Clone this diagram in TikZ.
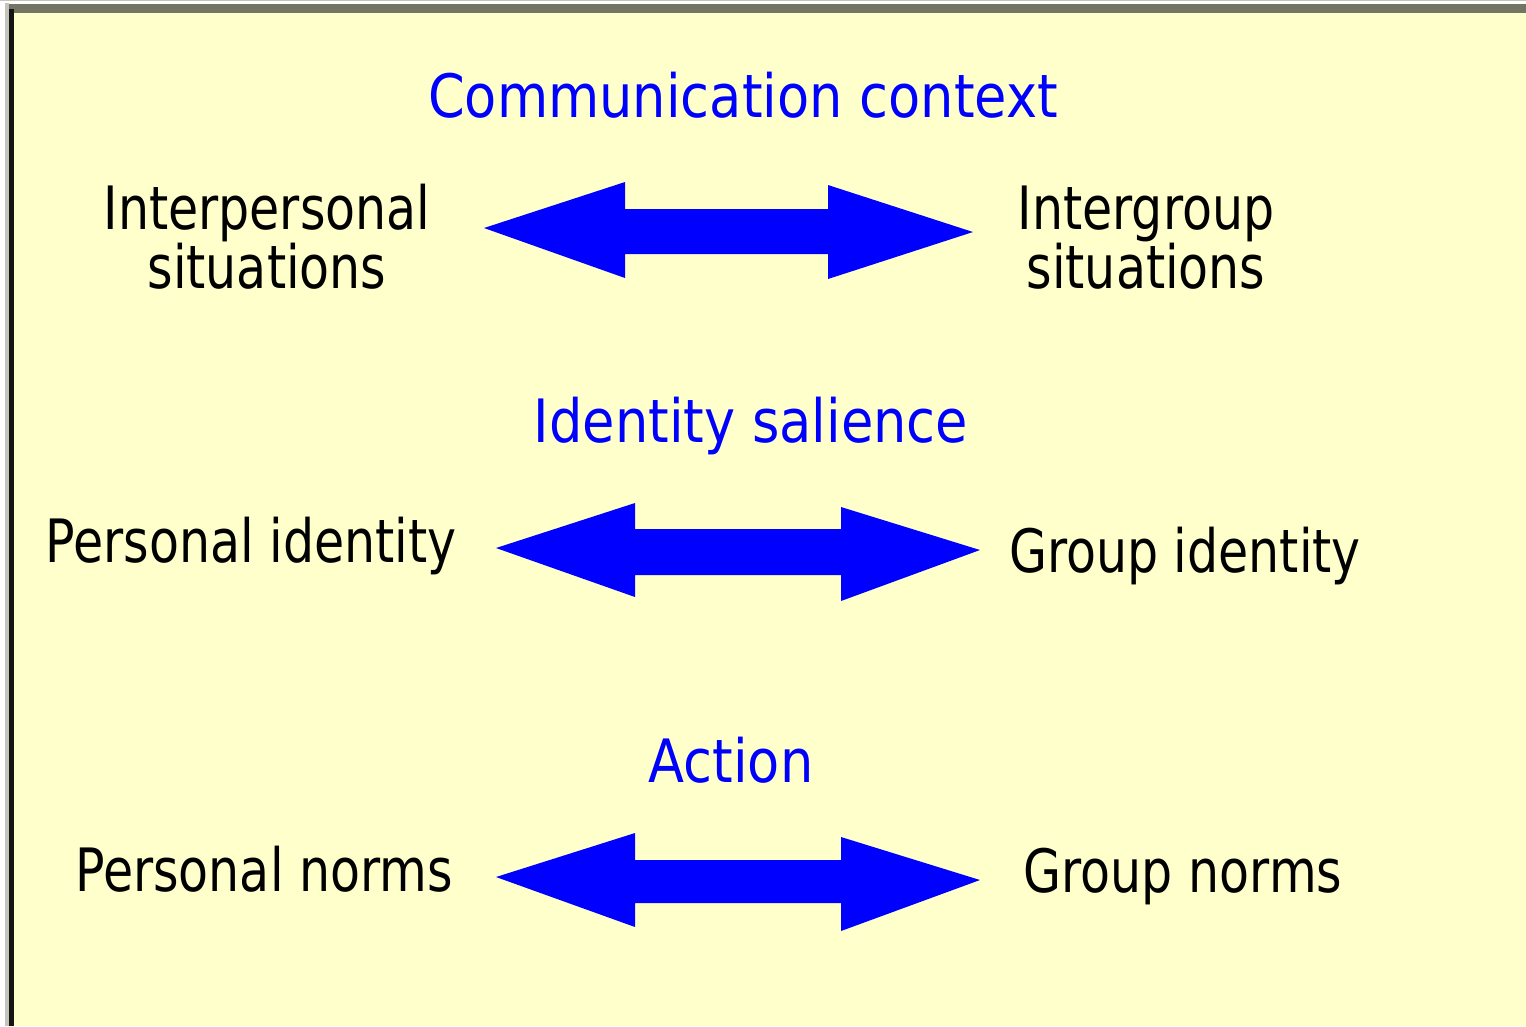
\documentclass[tikz,border=0pt]{standalone}
\usepackage{fontspec}
\setmainfont{DejaVu Sans}[FakeStretch=0.82]
\newfontfamily\headfont{DejaVu Sans}[FakeStretch=0.88]
\definecolor{paper}{HTML}{FFFFCC}
\definecolor{framegrey}{HTML}{747464}
\definecolor{edgegrey}{HTML}{C4C4BC}
\definecolor{headblue}{HTML}{0000FF}
\tikzset{
  heading/.style={anchor=base,inner sep=0pt,text=headblue,font=\headfont\fontsize{17}{16.5}\selectfont},
  label/.style={anchor=base,inner sep=0pt,align=center,text=black,font=\fontsize{17}{16.5}\selectfont},
  blockarrow/.style={fill=headblue}
}
\begin{document}
\begin{tikzpicture}[x=0.01cm,y=-0.01cm]
                \useasboundingbox (0,0) rectangle (1526,1026);
                % frame
                \fill[white] (0,0) rectangle (1526,1026);
                \fill[edgegrey] (0,0) rectangle (1526,1.2);
                \fill[edgegrey] (5,3) rectangle (9,1026);
                \fill[framegrey] (9,4) rectangle (1526,12.7);
                \fill[black!92] (9,9) rectangle (14,1026);
                \fill[paper] (14,12.7) rectangle (1526,1026);
                % first row
                \node[heading] (ctx) at (743,117) {Communication context};
                \node[label] (interp) at (267,288) {Interpersonal\\situations};
                \node[label] (intergr) at (1146,288) {Intergroup\\situations};
                \fill[blockarrow] (484,228) -- (625,182) -- (625,209) -- (828,209) -- (828,185) -- (973,232)
                    -- (828,279) -- (828,254) -- (625,254) -- (625,278) -- cycle;
                % second row
                \node[heading] (sal) at (751,442) {Identity salience};
                \node[label] (persid) at (251,562) {Personal identity};
                \node[label] (grpid) at (1185,572) {Group identity};
                \fill[blockarrow] (496,548) -- (635,503) -- (635,529) -- (841,529) -- (841,507) -- (980,550)
                    -- (841,601) -- (841,575) -- (635,575) -- (635,597) -- cycle;
                % third row
                \node[heading] (act) at (731,782) {Action};
                \node[label] (persnorm) at (264,891) {Personal norms};
                \node[label] (grpnorm) at (1183,892) {Group norms};
                \fill[blockarrow] (496,877) -- (635,833) -- (635,860) -- (841,860) -- (841,837) -- (980,880)
                    -- (841,931) -- (841,903) -- (635,903) -- (635,927) -- cycle;
            \end{tikzpicture}
\end{document}
